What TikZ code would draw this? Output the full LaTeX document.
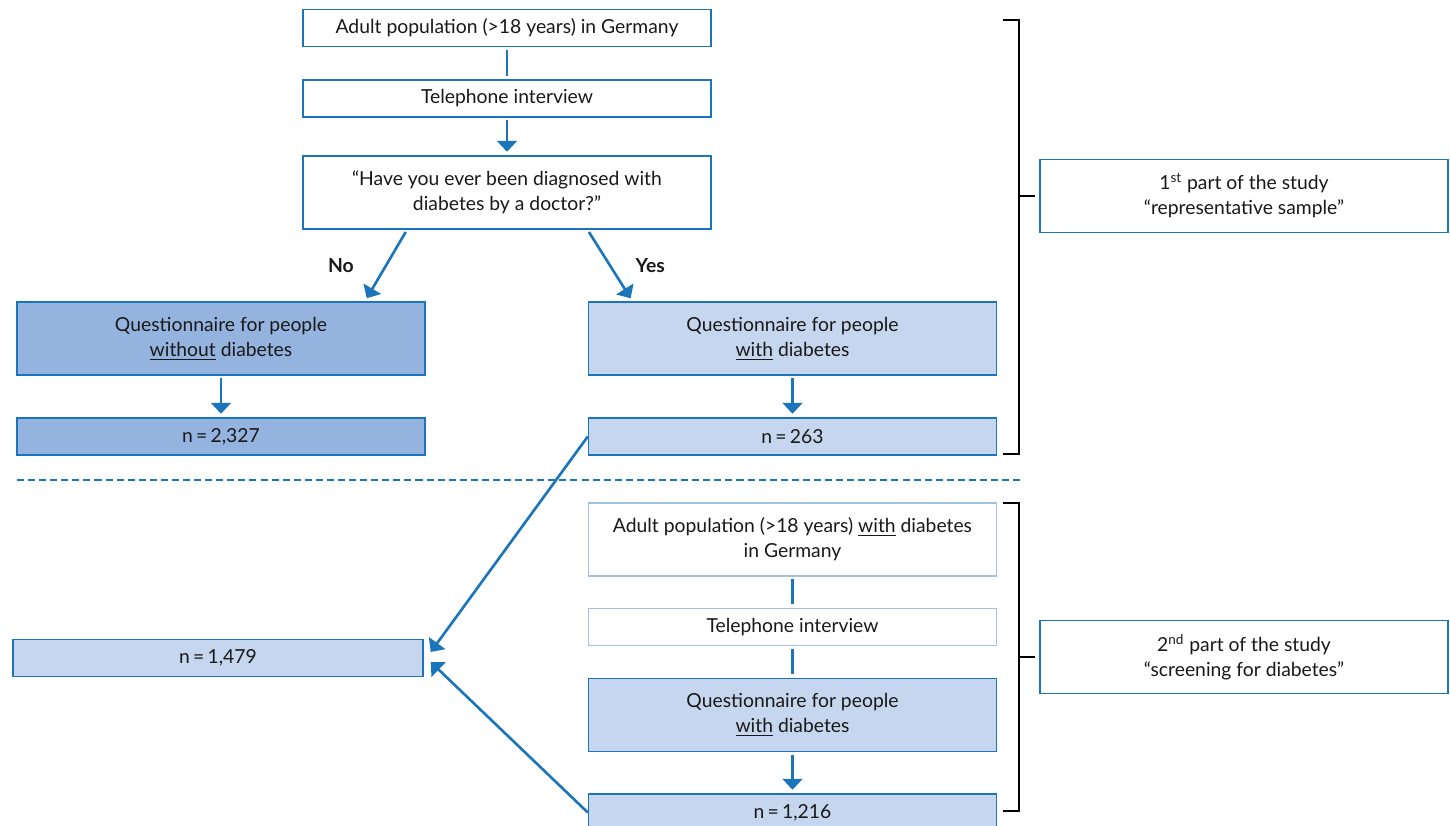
\documentclass[tikz,border=0pt]{standalone}
\usepackage{fontspec}
\setmainfont{Lato}
\usetikzlibrary{calc,positioning,arrows.meta}

\definecolor{frameblue}{HTML}{1B75BB}
\definecolor{darkfill}{HTML}{95B3DF}
\definecolor{lightfill}{HTML}{C6D6EE}
\definecolor{paleframe}{HTML}{A3BFE6}

\begin{document}
\begin{tikzpicture}[x=0.02cm, y=-0.02cm
        , every node/.style={ font=\fontsize{11}{14.2}\selectfont, text=black!90, align=center }
        , box/.style={ draw=frameblue, line width=0.85pt, minimum width=8.16cm, inner sep=0pt, fill=white }
        , tall/.style={ minimum height=1.46cm }
        , flat/.style={ minimum height=0.74cm }
        , dark/.style={ fill=darkfill }
        , light/.style={ fill=lightfill }
        , pale/.style={ draw=paleframe }
        , answer/.style={ font=\fontsize{11}{14.2}\selectfont\bfseries }
        , link/.style={ draw=frameblue, line width=1.5pt, shorten <=1.5pt, shorten >=2pt }
        , arr/.style={ link, -{Triangle[width=0.4cm,length=0.22cm]} }
        , brace/.style={ draw=black, line width=0.6pt }
        ]

        \useasboundingbox (0,0) rectangle (1450,825);

        % 1st part: representative sample
        \node[box,flat] (adult) at (507,28) {Adult population (>18 years) in Germany};
        \node[box,flat] (phone) at (507,98.5) {Telephone interview};
        \node[box,tall] (ask) at (507,192.5) {“Have you ever been diagnosed with\\diabetes by a doctor?”};

        \node[box,tall,dark] (qno) at (221,338.5) {Questionnaire for people\\\underline{without} diabetes};
        \node[box,flat,dark] (nno) at (221,436.5) {n\,=\,2,327};

        \node[box,tall,light] (qyes) at (792.5,338.5) {Questionnaire for people\\\underline{with} diabetes};
        \node[box,flat,light] (nyes) at (792.5,436.5) {n\,=\,263};

        \node[box,tall] (part1) at (1244,196) {1\textsuperscript{st} part of the study\\“representative sample”};

        \draw[link] (adult) -- (phone);
        \draw[arr] (phone) -- (ask);
        \draw[arr] ([xshift=-2cm]ask.south) -- ([xshift=2.88cm]qno.north)
            node[midway,left=0.5cm,answer] {No};
        \draw[arr] ([xshift=1.61cm]ask.south) -- ([xshift=-3.2cm]qyes.north)
            node[midway,right=0.37cm,answer] {Yes};
        \draw[arr] (qno) -- (nno);
        \draw[arr] (qyes) -- (nyes);

        \draw[brace] (1003,20) -| (1019,454) -- (1003,454);
        \draw[brace, shorten >=0.08cm] (1019,196) -- (part1.west);

        % split between the two parts
        \draw[frameblue, line width=0.7pt, dash pattern=on 4pt off 2.3pt] (17,480) -- (1023,480);

        % 2nd part: screening for diabetes
        \node[box,tall,pale] (adult2) at (792.5,539.5) {Adult population (>18 years) \underline{with} diabetes\\in Germany};
        \node[box,flat,pale] (phone2) at (792.5,627) {Telephone interview};
        \node[box,tall,light] (qyes2) at (792.5,715) {Questionnaire for people\\\underline{with} diabetes};
        \node[box,flat,light] (nscreen) at (792.5,812.5) {n\,=\,1,216};

        \node[box,tall] (part2) at (1244,657) {2\textsuperscript{nd} part of the study\\“screening for diabetes”};

        \node[box,flat,light,minimum width=8.2cm] (ntotal) at (218,658) {n\,=\,1,479};

        \draw[link] (adult2) -- (phone2);
        \draw[link] (phone2) -- (qyes2);
        \draw[arr] (qyes2) -- (nscreen);

        \draw[brace] (1003,503) -| (1019,811) -- (1003,811);
        \draw[brace, shorten >=0.08cm] (1019,657) -- (part2.west);

        % both samples are pooled
        \draw[arr, shorten <=0pt, shorten >=0pt] (nyes.west) -- ([shift={(0.14cm,0.12cm)}]ntotal.east);
        \draw[arr, shorten <=0pt, shorten >=0pt] (nscreen.west) -- ([shift={(0.14cm,-0.08cm)}]ntotal.east);

    \end{tikzpicture}
\end{document}
